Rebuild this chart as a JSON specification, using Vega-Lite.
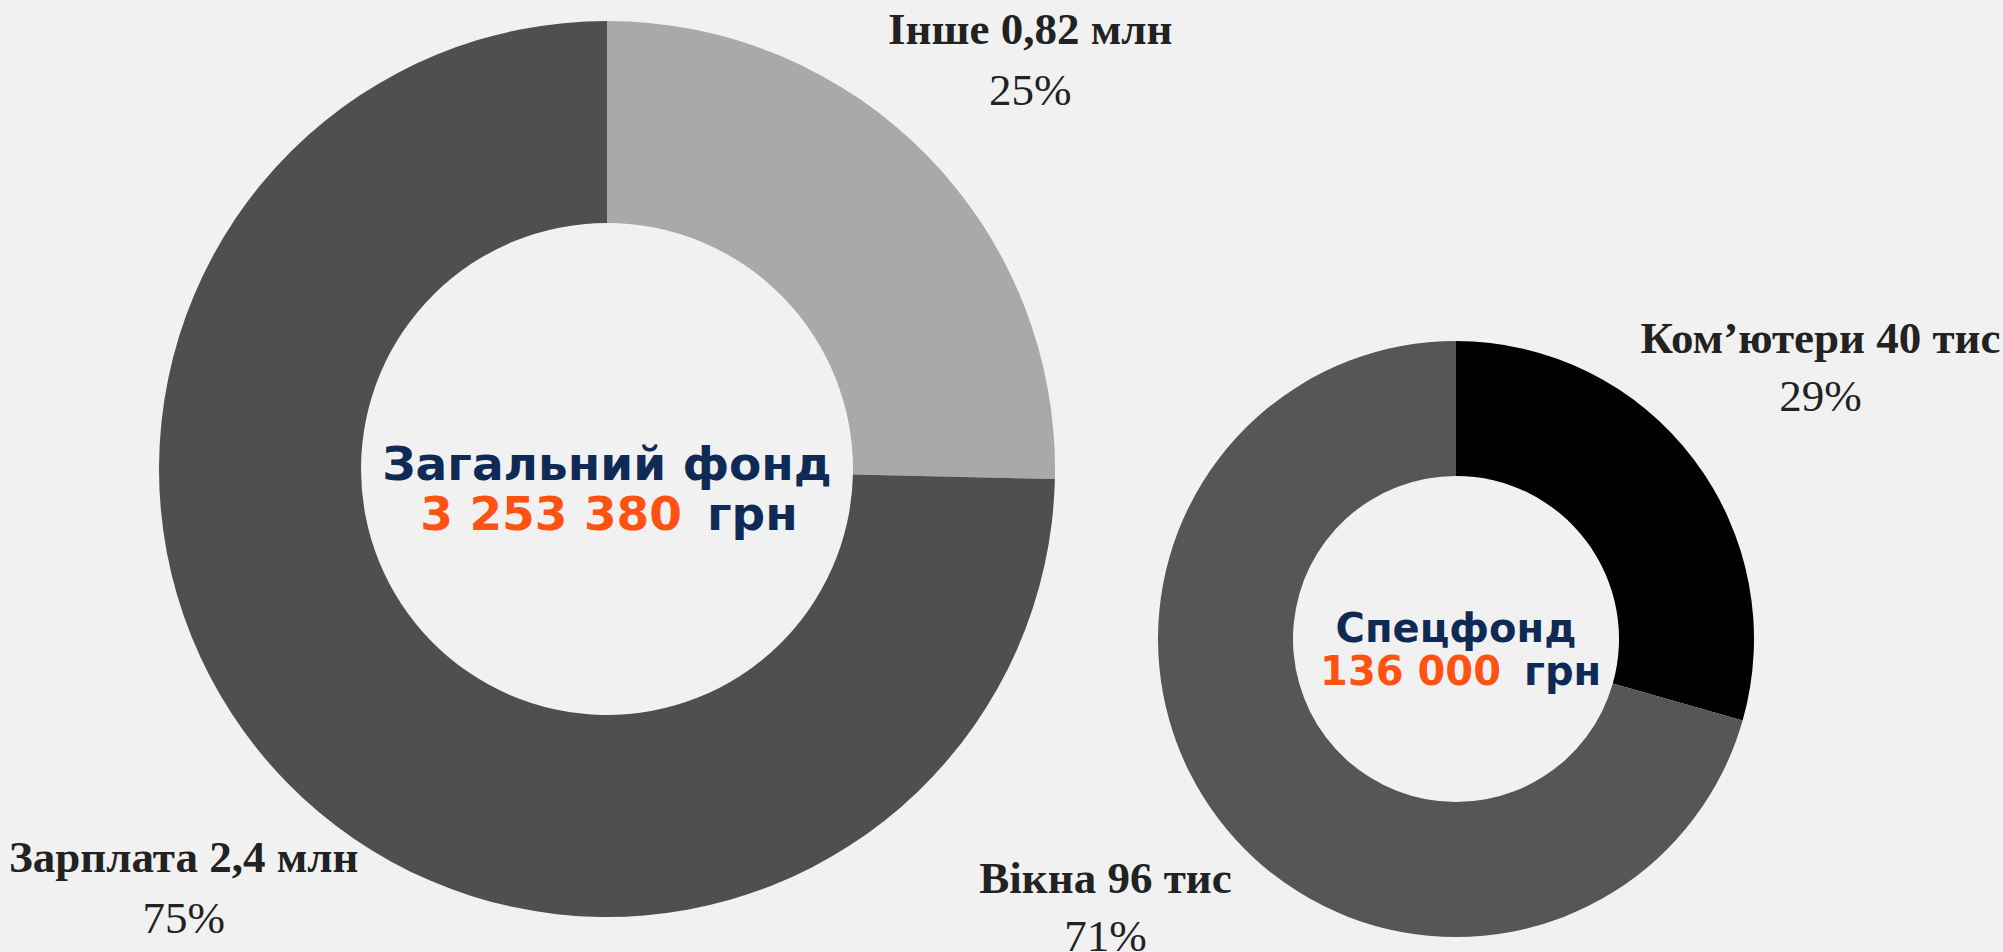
{
  "$schema": "https://vega.github.io/schema/vega-lite/v6.json",
  "width": 2003,
  "height": 952,
  "autosize": {"type": "fit", "contains": "padding"},
  "padding": 0,
  "background": "#f1f1f1",
  "config": {"view": {"stroke": null}},
  "datasets": {
    "slices": [
      {"fund": "Загальний фонд", "category": "Інше", "value": 825000, "label": "Інше 0,82 млн", "pct": "25%"},
      {"fund": "Загальний фонд", "category": "Зарплата", "value": 2428380, "label": "Зарплата 2,4 млн", "pct": "75%"},
      {"fund": "Спецфонд", "category": "Ком’ютери", "value": 40000, "label": "Ком’ютери 40 тис", "pct": "29%"},
      {"fund": "Спецфонд", "category": "Вікна", "value": 96000, "label": "Вікна 96 тис", "pct": "71%"}
    ],
    "funds": [
      {"fund": "Загальний фонд", "total": "3 253 380", "unit": "грн"},
      {"fund": "Спецфонд", "total": "136 000", "unit": "грн"}
    ]
  },
  "encoding": {
    "x": {"field": "fund", "type": "nominal", "axis": null, "scale": {"type": "point", "domain": ["Загальний фонд", "Спецфонд"], "range": [607, 1456], "padding": 0}},
    "y": {"field": "fund", "type": "nominal", "axis": null, "scale": {"type": "point", "domain": ["Загальний фонд", "Спецфонд"], "range": [469, 639], "padding": 0}}
  },
  "layer": [
    {
      "data": {"name": "slices"},
      "transform": [{"filter": "datum.fund === 'Загальний фонд'"}],
      "mark": {"type": "arc", "outerRadius": 448, "innerRadius": 246},
      "encoding": {
        "theta": {"field": "value", "type": "quantitative", "stack": "normalize"},
        "order": {"field": "value", "sort": "ascending"},
        "color": {"field": "category", "type": "nominal", "legend": null, "scale": {"domain": ["Інше", "Зарплата", "Ком’ютери", "Вікна"], "range": ["#a9a9a9", "#4f4f4f", "#000000", "#565656"]}}
      }
    },
    {
      "data": {"name": "slices"},
      "transform": [{"filter": "datum.fund === 'Спецфонд'"}],
      "mark": {"type": "arc", "outerRadius": 298, "innerRadius": 163},
      "encoding": {
        "theta": {"field": "value", "type": "quantitative", "stack": "normalize"},
        "order": {"field": "value", "sort": "ascending"},
        "color": {"field": "category", "type": "nominal", "legend": null}
      }
    },
    {
      "data": {"name": "slices"},
      "transform": [{"filter": "datum.fund === 'Загальний фонд'"}],
      "mark": {"type": "text", "radius": 592, "dy": -25, "font": "Liberation Serif", "fontWeight": "bold", "fontSize": 45, "fill": "#222222", "baseline": "middle", "align": "center"},
      "encoding": {
        "theta": {"field": "value", "type": "quantitative", "stack": "normalize"},
        "order": {"field": "value", "sort": "ascending"},
        "text": {"field": "label"}
      }
    },
    {
      "data": {"name": "slices"},
      "transform": [{"filter": "datum.fund === 'Загальний фонд'"}],
      "mark": {"type": "text", "radius": 592, "dy": 36, "font": "Liberation Serif", "fontSize": 45, "fill": "#222222", "baseline": "middle", "align": "center"},
      "encoding": {
        "theta": {"field": "value", "type": "quantitative", "stack": "normalize"},
        "order": {"field": "value", "sort": "ascending"},
        "text": {"field": "pct"}
      }
    },
    {
      "data": {"name": "slices"},
      "transform": [{"filter": "datum.fund === 'Спецфонд'"}],
      "mark": {"type": "text", "radius": 448, "dx": 7, "dy": -30, "font": "Liberation Serif", "fontWeight": "bold", "fontSize": 45, "fill": "#222222", "baseline": "middle", "align": "center"},
      "encoding": {
        "theta": {"field": "value", "type": "quantitative", "stack": "normalize"},
        "order": {"field": "value", "sort": "ascending"},
        "text": {"field": "label"}
      }
    },
    {
      "data": {"name": "slices"},
      "transform": [{"filter": "datum.fund === 'Спецфонд'"}],
      "mark": {"type": "text", "radius": 448, "dx": 7, "dy": 28, "font": "Liberation Serif", "fontSize": 45, "fill": "#222222", "baseline": "middle", "align": "center"},
      "encoding": {
        "theta": {"field": "value", "type": "quantitative", "stack": "normalize"},
        "order": {"field": "value", "sort": "ascending"},
        "text": {"field": "pct"}
      }
    },
    {
      "data": {"name": "funds"},
      "transform": [{"filter": "datum.fund === 'Загальний фонд'"}],
      "mark": {"type": "text", "dy": -3, "font": "DejaVu Sans", "fontWeight": "bold", "fontSize": 47, "fill": "#0f2b55", "baseline": "middle", "align": "center"},
      "encoding": {"text": {"field": "fund"}}
    },
    {
      "data": {"name": "funds"},
      "transform": [{"filter": "datum.fund === 'Загальний фонд'"}],
      "mark": {"type": "text", "dx": 75, "dy": 47, "font": "DejaVu Sans", "fontWeight": "bold", "fontSize": 47, "fill": "#ff5213", "baseline": "middle", "align": "right"},
      "encoding": {"text": {"field": "total"}}
    },
    {
      "data": {"name": "funds"},
      "transform": [{"filter": "datum.fund === 'Загальний фонд'"}],
      "mark": {"type": "text", "dx": 100, "dy": 47, "font": "DejaVu Sans", "fontWeight": "bold", "fontSize": 47, "fill": "#0f2b55", "baseline": "middle", "align": "left"},
      "encoding": {"text": {"field": "unit"}}
    },
    {
      "data": {"name": "funds"},
      "transform": [{"filter": "datum.fund === 'Спецфонд'"}],
      "mark": {"type": "text", "dy": -9, "font": "DejaVu Sans", "fontWeight": "bold", "fontSize": 40, "fill": "#0f2b55", "baseline": "middle", "align": "center"},
      "encoding": {"text": {"field": "fund"}}
    },
    {
      "data": {"name": "funds"},
      "transform": [{"filter": "datum.fund === 'Спецфонд'"}],
      "mark": {"type": "text", "dx": 45, "dy": 34, "font": "DejaVu Sans", "fontWeight": "bold", "fontSize": 40, "fill": "#ff5213", "baseline": "middle", "align": "right"},
      "encoding": {"text": {"field": "total"}}
    },
    {
      "data": {"name": "funds"},
      "transform": [{"filter": "datum.fund === 'Спецфонд'"}],
      "mark": {"type": "text", "dx": 68, "dy": 34, "font": "DejaVu Sans", "fontWeight": "bold", "fontSize": 40, "fill": "#0f2b55", "baseline": "middle", "align": "left"},
      "encoding": {"text": {"field": "unit"}}
    }
  ]
}
